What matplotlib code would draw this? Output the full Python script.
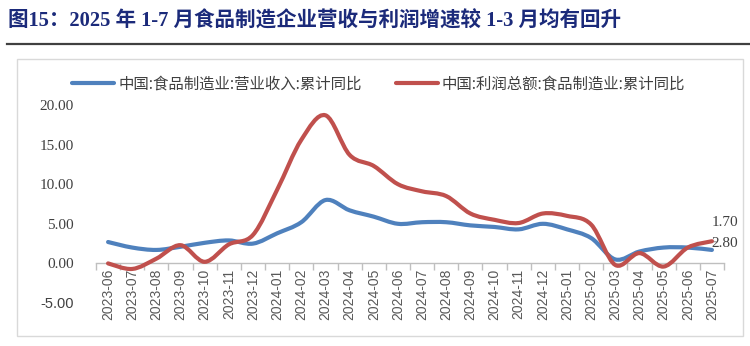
import matplotlib
matplotlib.use("Agg")
import matplotlib.pyplot as plt
from matplotlib.path import Path
from matplotlib.patches import PathPatch, Rectangle
from matplotlib.lines import Line2D
import numpy as np

months = ["2023-06", "2023-07", "2023-08", "2023-09", "2023-10", "2023-11", "2023-12",
          "2024-01", "2024-02", "2024-03", "2024-04", "2024-05", "2024-06", "2024-07",
          "2024-08", "2024-09", "2024-10", "2024-11", "2024-12", "2025-01", "2025-02",
          "2025-03", "2025-04", "2025-05", "2025-06", "2025-07"]
revenue = [2.7, 2.0, 1.7, 2.1, 2.6, 2.9, 2.5, 3.8, 5.2, 8.0, 6.7, 5.9, 5.0,
           5.2, 5.2, 4.8, 4.6, 4.3, 5.0, 4.3, 3.2, 0.5, 1.5, 2.0, 2.0, 1.7]
profit = [0.0, -0.7, 0.6, 2.3, 0.2, 2.4, 3.6, 9.3, 15.6, 18.7, 13.7, 12.3, 10.0,
          9.1, 8.5, 6.3, 5.5, 5.1, 6.3, 6.0, 4.9, -0.2, 1.3, -0.4, 2.0, 2.8]
name_rev = "中国:食品制造业:营业收入:累计同比"
name_pro = "中国:利润总额:食品制造业:累计同比"
title = "图15：2025 年 1-7 月食品制造企业营收与利润增速较 1-3 月均有回升"
yticks = [-5, 0, 5, 10, 15, 20]

BLUE = "#4f81bd"
RED = "#c0504d"

fig = plt.figure(figsize=(7.5, 3.46), dpi=100)
W, H = 750, 346

# title + rule
fig.text(8 / W, 1 - 21 / H, title, fontsize=14.8, fontweight="bold", color="#1b2a7a",
         family=["Liberation Serif", "Noto Sans CJK SC"], va="center", ha="left")
fig.add_artist(Line2D([7 / W, 1.0], [1 - 44 / H, 1 - 44 / H], color="#404040", lw=1.6,
                      transform=fig.transFigure))
# chart frame
fig.add_artist(Rectangle((17 / W, 1 - 336 / H), (743 - 17) / W, (336 - 59) / H,
                         transform=fig.transFigure, fill=False, ec="#d9d9d9", lw=1))

ax = fig.add_axes([96 / W, 1 - 303 / H, (724 - 96) / W, (303 - 105) / H])
ax.set_facecolor("none")
x = np.arange(len(months))


def smooth_path(xs, ys):
    pts = np.column_stack([xs, ys]).astype(float)
    n = len(pts)
    verts = [pts[0]]
    codes = [Path.MOVETO]
    for i in range(n - 1):
        p0 = pts[i - 1] if i > 0 else pts[i]
        p1 = pts[i]
        p2 = pts[i + 1]
        p3 = pts[i + 2] if i + 2 < n else pts[i + 1]
        c1 = p1 + (p2 - p0) / 6.0
        c2 = p2 - (p3 - p1) / 6.0
        verts += [c1, c2, p2]
        codes += [Path.CURVE4] * 3
    return Path(verts, codes)


for vals, col in [(revenue, BLUE), (profit, RED)]:
    ax.add_patch(PathPatch(smooth_path(x, vals), fill=False, ec=col, lw=3.0,
                           capstyle="round", joinstyle="round", zorder=3))

ax.set_xlim(-0.5, len(months) - 0.5)
ax.set_ylim(-5, 20)

for s in ["left", "right", "top"]:
    ax.spines[s].set_visible(False)
ax.spines["bottom"].set_position(("data", 0))
ax.spines["bottom"].set_color("#bfbfbf")
ax.spines["bottom"].set_linewidth(1.0)

ax.set_xticks(x)
ax.set_xticklabels(months, rotation=90, fontsize=10, color="#595959",
                   family="Liberation Sans")
ax.set_xticks(np.arange(-0.5, len(months), 1.0), minor=True)
ax.tick_params(axis="x", which="major", length=0, pad=4)
ax.tick_params(axis="x", which="minor", length=5, color="#bfbfbf", width=1, direction="out")

ax.set_yticks(yticks)
ax.set_yticklabels([f"{v:.2f}" for v in yticks], fontsize=11, color="#404040",
                   family="Liberation Serif")
ax.get_yticklabels()[0].set_family("Liberation Sans")
ax.get_yticklabels()[0].set_fontsize(10.5)
ax.tick_params(axis="y", length=0, pad=16)

# end labels
ax.annotate(f"{revenue[-1]:.2f}", xy=(x[-1], revenue[-1]), xytext=(13, 27),
            textcoords="offset pixels", fontsize=11, color="#404040",
            family="Liberation Serif", ha="center", va="center")
ax.annotate(f"{profit[-1]:.2f}", xy=(x[-1], profit[-1]), xytext=(13, -2),
            textcoords="offset pixels", fontsize=11, color="#404040",
            family="Liberation Serif", ha="center", va="center", zorder=2,
            arrowprops=dict(arrowstyle="-", color="#a6a6a6", lw=1,
                            shrinkA=6, shrinkB=0))

handles = [Line2D([], [], color=BLUE, lw=3.0, solid_capstyle="round"),
           Line2D([], [], color=RED, lw=3.0, solid_capstyle="round")]
fig.legend(handles, [name_rev, name_pro], loc="center left",
           bbox_to_anchor=(72 / W, 1 - 84 / H), bbox_transform=fig.transFigure,
           ncol=2, frameon=False, borderpad=0, borderaxespad=0,
           handlelength=2.75, handletextpad=0.25, columnspacing=2.2,
           prop={"family": ["Noto Sans CJK SC", "DejaVu Sans"], "size": 11.1},
           labelcolor="#404040")

fig.savefig("out.png", dpi=100)
